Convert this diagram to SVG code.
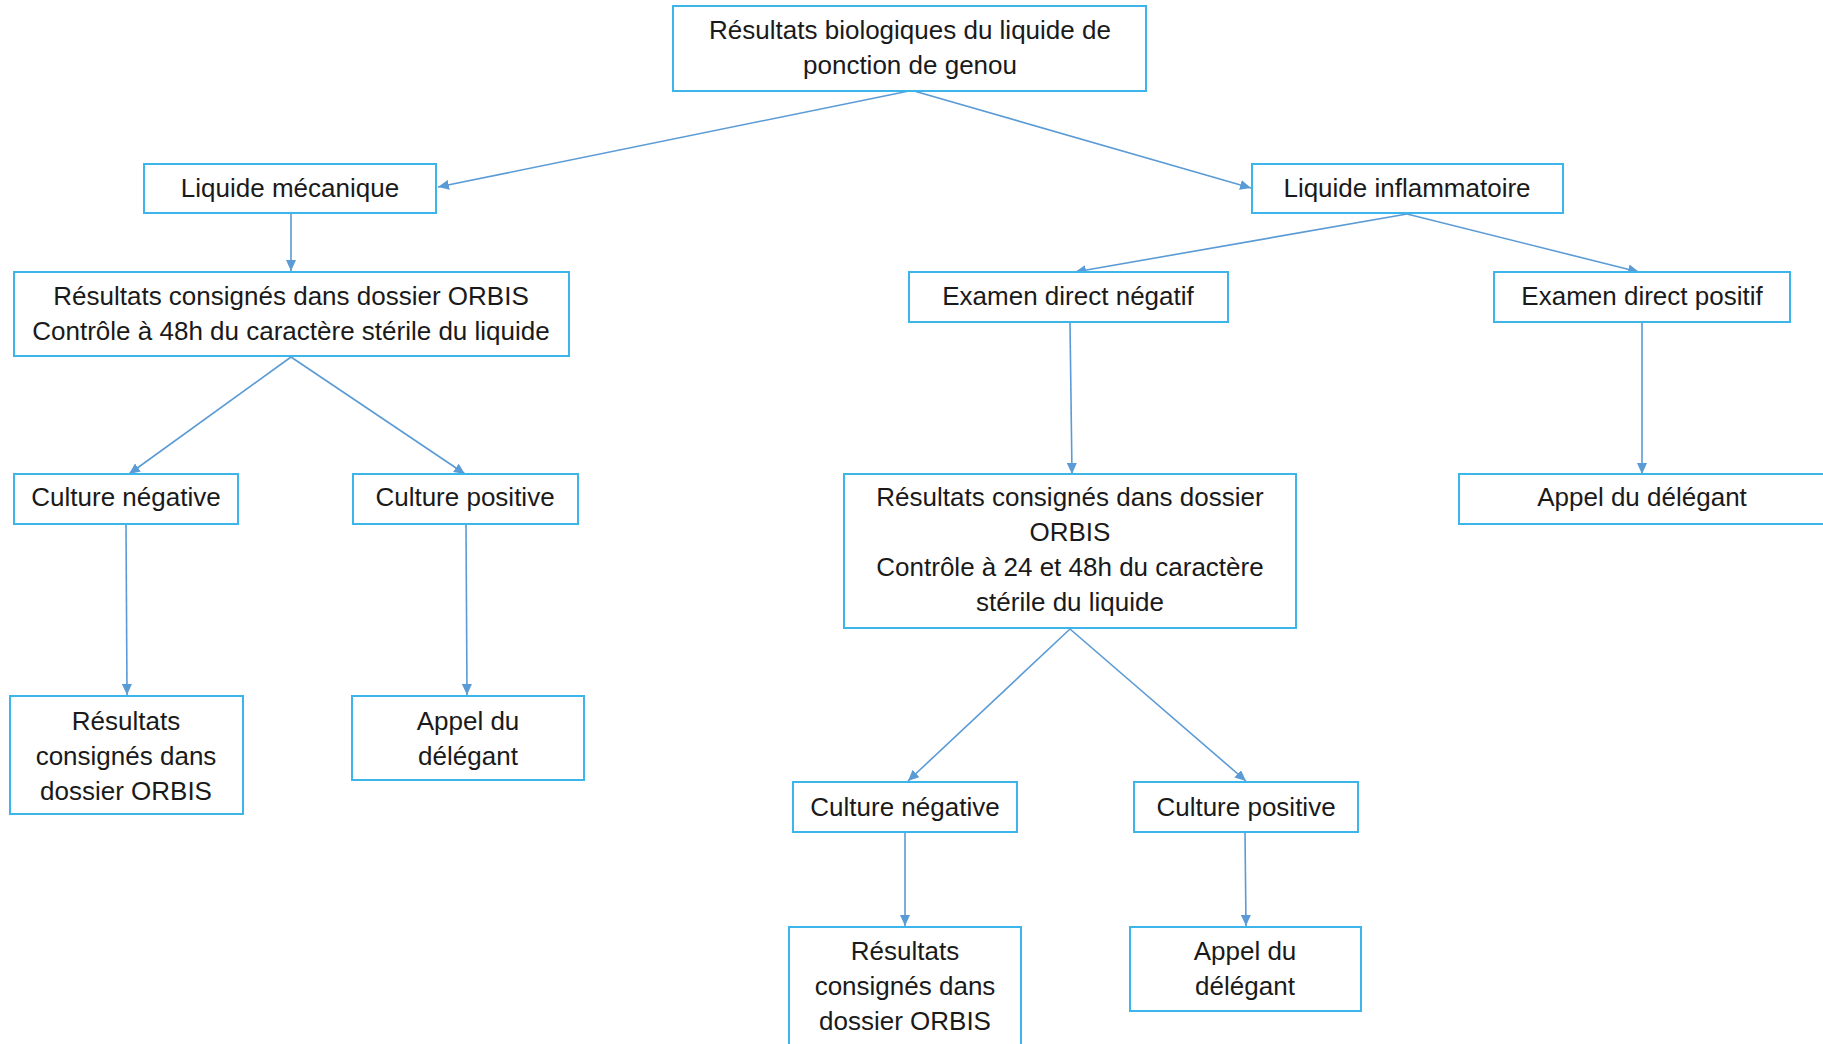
<svg xmlns="http://www.w3.org/2000/svg" width="1823" height="1044" viewBox="0 0 1823 1044">
<style>
  .box{fill:#ffffff;stroke:#3cb6ea;stroke-width:2}
  .t{font-family:"Liberation Sans",Arial,sans-serif;font-size:26px;fill:#1a1a1a;text-anchor:middle}
  .c{fill:none;stroke:#5b9bd5;stroke-width:1.6}
</style>
<defs>
  <marker id="ah" markerUnits="userSpaceOnUse" markerWidth="12" markerHeight="10" refX="11" refY="5" orient="auto">
    <path d="M0,0 L11,5 L0,10 Z" fill="#5b9bd5"/>
  </marker>
</defs>
<rect width="1823" height="1044" fill="#ffffff"/>
<g id="connectors">
  <line class="c" x1="909" y1="91" x2="438" y2="187" marker-end="url(#ah)"/>
  <line class="c" x1="914" y1="91" x2="1251" y2="188" marker-end="url(#ah)"/>
  <line class="c" x1="291" y1="213" x2="291" y2="271" marker-end="url(#ah)"/>
  <line class="c" x1="1407" y1="214" x2="1075" y2="272" marker-end="url(#ah)"/>
  <line class="c" x1="1407" y1="214" x2="1639" y2="272" marker-end="url(#ah)"/>
  <line class="c" x1="291" y1="357" x2="129" y2="474" marker-end="url(#ah)"/>
  <line class="c" x1="291" y1="357" x2="465" y2="474" marker-end="url(#ah)"/>
  <line class="c" x1="1070" y1="323" x2="1072" y2="474" marker-end="url(#ah)"/>
  <line class="c" x1="1642" y1="323" x2="1642" y2="474" marker-end="url(#ah)"/>
  <line class="c" x1="126" y1="524" x2="127" y2="695" marker-end="url(#ah)"/>
  <line class="c" x1="466" y1="524" x2="467" y2="695" marker-end="url(#ah)"/>
  <line class="c" x1="1070" y1="629" x2="908" y2="781" marker-end="url(#ah)"/>
  <line class="c" x1="1070" y1="629" x2="1246" y2="781" marker-end="url(#ah)"/>
  <line class="c" x1="905" y1="833" x2="905" y2="926" marker-end="url(#ah)"/>
  <line class="c" x1="1245" y1="833" x2="1246" y2="926" marker-end="url(#ah)"/>
</g>
<g id="n-root">
  <rect class="box" x="673" y="6" width="473" height="85"/>
  <text class="t" x="910" y="39">Résultats biologiques du liquide de</text>
  <text class="t" x="910" y="74">ponction de genou</text>
</g>
<g id="n-mecanique">
  <rect class="box" x="144" y="164" width="292" height="49"/>
  <text class="t" x="290" y="197">Liquide mécanique</text>
</g>
<g id="n-inflammatoire">
  <rect class="box" x="1252" y="164" width="311" height="49"/>
  <text class="t" x="1407" y="197">Liquide inflammatoire</text>
</g>
<g id="n-orbis-left">
  <rect class="box" x="14" y="272" width="555" height="84"/>
  <text class="t" x="291" y="305">Résultats consignés dans dossier ORBIS</text>
  <text class="t" x="291" y="340">Contrôle à 48h du caractère stérile du liquide</text>
</g>
<g id="n-exam-neg">
  <rect class="box" x="909" y="272" width="319" height="50"/>
  <text class="t" x="1068" y="305">Examen direct négatif</text>
</g>
<g id="n-exam-pos">
  <rect class="box" x="1494" y="272" width="296" height="50"/>
  <text class="t" x="1642" y="305">Examen direct positif</text>
</g>
<g id="n-cult-neg-left">
  <rect class="box" x="14" y="474" width="224" height="50"/>
  <text class="t" x="126" y="506">Culture négative</text>
</g>
<g id="n-cult-pos-left">
  <rect class="box" x="353" y="474" width="225" height="50"/>
  <text class="t" x="465" y="506">Culture positive</text>
</g>
<g id="n-orbis-mid">
  <rect class="box" x="844" y="474" width="452" height="154"/>
  <text class="t" x="1070" y="506">Résultats consignés dans dossier</text>
  <text class="t" x="1070" y="541">ORBIS</text>
  <text class="t" x="1070" y="576">Contrôle à 24 et 48h du caractère</text>
  <text class="t" x="1070" y="611">stérile du liquide</text>
</g>
<g id="n-appel-right">
  <rect class="box" x="1459" y="474" width="365" height="50"/>
  <text class="t" x="1642" y="506">Appel du délégant</text>
</g>
<g id="n-orbis-bl">
  <rect class="box" x="10" y="696" width="233" height="118"/>
  <text class="t" x="126" y="730">Résultats</text>
  <text class="t" x="126" y="765">consignés dans</text>
  <text class="t" x="126" y="800">dossier ORBIS</text>
</g>
<g id="n-appel-bl">
  <rect class="box" x="352" y="696" width="232" height="84"/>
  <text class="t" x="468" y="730">Appel du</text>
  <text class="t" x="468" y="765">délégant</text>
</g>
<g id="n-cult-neg-mid">
  <rect class="box" x="793" y="782" width="224" height="50"/>
  <text class="t" x="905" y="816">Culture négative</text>
</g>
<g id="n-cult-pos-mid">
  <rect class="box" x="1134" y="782" width="224" height="50"/>
  <text class="t" x="1246" y="816">Culture positive</text>
</g>
<g id="n-orbis-bm">
  <rect class="box" x="789" y="927" width="232" height="130"/>
  <text class="t" x="905" y="960">Résultats</text>
  <text class="t" x="905" y="995">consignés dans</text>
  <text class="t" x="905" y="1030">dossier ORBIS</text>
</g>
<g id="n-appel-bm">
  <rect class="box" x="1130" y="927" width="231" height="84"/>
  <text class="t" x="1245" y="960">Appel du</text>
  <text class="t" x="1245" y="995">délégant</text>
</g>
</svg>
